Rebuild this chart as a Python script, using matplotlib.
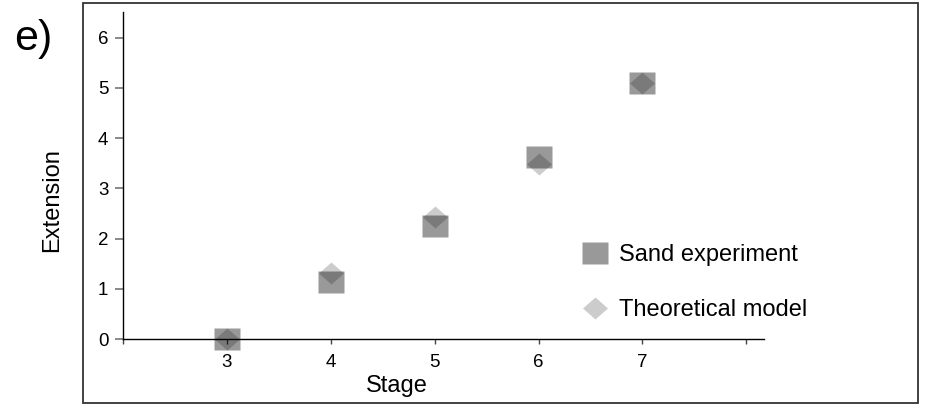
import matplotlib
matplotlib.use("Agg")
import matplotlib.pyplot as plt
from matplotlib.patches import Rectangle

plt.rcParams['font.family'] = ['Liberation Sans', 'DejaVu Sans']

# Data
stages = [3, 4, 5, 6, 7]
sand_experiment = [0.0, 1.14, 2.26, 3.62, 5.10]
theoretical_model = [0.0, 1.32, 2.42, 3.49, 5.10]
x_ticks = [2, 3, 4, 5, 6, 7, 8]
x_tick_labels = ["", "3", "4", "5", "6", "7", ""]
y_ticks = [0, 1, 2, 3, 4, 5, 6]

fig = plt.figure(figsize=(9.29, 4.07), dpi=100)
ax = fig.add_axes([0.1324, 0.167, 0.69, 0.8035])

# Slightly wide marker shapes
square_marker = [(-0.5, -0.43), (0.5, -0.43), (0.5, 0.43), (-0.5, 0.43), (-0.5, -0.43)]
diamond_marker = [(-0.5, 0.0), (0.0, 0.44), (0.5, 0.0), (0.0, -0.44), (-0.5, 0.0)]

ax.plot(stages, theoretical_model, linestyle='none', marker=diamond_marker,
        markersize=18, markerfacecolor=(0, 0, 0, 0.2), markeredgecolor='none',
        label='Theoretical model', clip_on=False, zorder=3)
ax.plot(stages, sand_experiment, linestyle='none', marker=square_marker,
        markersize=19, markerfacecolor=(0, 0, 0, 0.4), markeredgecolor='none',
        label='Sand experiment', clip_on=False, zorder=4)

ax.set_xlim(2, 8.17)
ax.set_ylim(0, 6.51)

ax.spines['top'].set_visible(False)
ax.spines['right'].set_visible(False)
ax.spines['left'].set_color('black')
ax.spines['bottom'].set_color('black')
ax.spines['left'].set_linewidth(1.0)
ax.spines['bottom'].set_linewidth(1.0)

ax.set_xticks(x_ticks)
ax.set_xticklabels(x_tick_labels)
ax.set_yticks(y_ticks)
ax.tick_params(axis='x', direction='out', length=3.5, width=1.0, color='#444444',
               pad=7, labelsize=13.5)
ax.tick_params(axis='y', direction='out', length=5.5, width=1.3, color='#808080',
               pad=5, labelsize=13.5)

ax.set_xlabel('Stage', fontsize=17)
ax.xaxis.set_label_coords(0.427, -0.144)
ax.xaxis.label.set_va('center')
ax.set_ylabel('Extension', fontsize=17)
ax.yaxis.set_label_coords(-0.111, 0.425)
ax.yaxis.label.set_va('center')

handles, labels = ax.get_legend_handles_labels()
leg = ax.legend(handles[::-1], labels[::-1], loc='center left',
                bbox_to_anchor=(0.715, 0.172), frameon=False, fontsize=17,
                labelspacing=1.38, handletextpad=0.4, handlelength=1.2,
                borderpad=0.0, borderaxespad=0.0)

# Panel letter and outer frame
fig.text(14 / 929, 1 - 39 / 407, 'e)', fontsize=31, va='center', ha='left')
fig.add_artist(Rectangle((83 / 929, 4 / 407), (918 - 83) / 929, (403 - 2.5) / 407,
                         transform=fig.transFigure, fill=False,
                         edgecolor='#333333', linewidth=1.3))

fig.savefig('out.png', dpi=100)
